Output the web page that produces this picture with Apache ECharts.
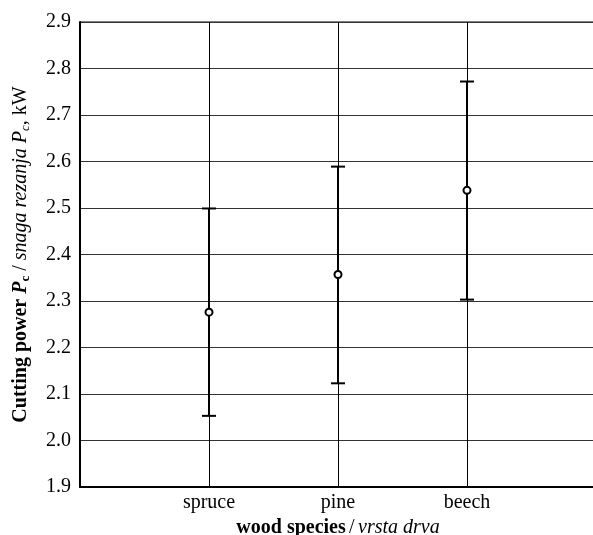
<!DOCTYPE html>
<html>
<head>
<meta charset="utf-8">
<script src="https://cdn.jsdelivr.net/npm/echarts@6/dist/echarts.min.js"></script>
<style>
html, body { margin: 0; padding: 0; background: #fff; }
#main { width: 593px; height: 535px; }
</style>
</head>
<body>
<div id="main"></div>
<script>
// categories (empty slots at both ends)
var categories = ['', 'spruce', 'pine', 'beech', ''];
var species = ['spruce', 'pine', 'beech'];
var means = [2.276, 2.357, 2.538];
var lows = [2.053, 2.123, 2.303];
var highs = [2.499, 2.589, 2.772];

var docChart = document.getElementById('main');
var myChart = echarts.init(docChart);

var barData = [];
var meanData = [];
for (var i = 0; i < species.length; i++) {
    barData.push([species[i], lows[i], highs[i]]);
    meanData.push([species[i], means[i]]);
}

var serif = '"Liberation Serif", "Times New Roman", serif';

function renderErrorBar(params, api) {
    var lowPt = api.coord([api.value(0), api.value(1)]);
    var highPt = api.coord([api.value(0), api.value(2)]);
    var half = 7;
    var style = { stroke: '#000', lineWidth: 2 };
    return {
        type: 'group',
        children: [
            { type: 'line', shape: { x1: lowPt[0], y1: lowPt[1], x2: highPt[0], y2: highPt[1] }, style: style },
            { type: 'line', shape: { x1: lowPt[0] - half, y1: lowPt[1], x2: lowPt[0] + half, y2: lowPt[1] }, style: style },
            { type: 'line', shape: { x1: highPt[0] - half, y1: highPt[1], x2: highPt[0] + half, y2: highPt[1] }, style: style }
        ]
    };
}

var option = {
    animation: false,
    backgroundColor: '#fff',
    grid: {
        left: 80,
        top: 22,
        width: 516,
        height: 465,
        outerBoundsMode: 'none',
        containLabel: false,
        show: true,
        borderColor: '#000',
        borderWidth: 1
    },
    xAxis: {
        type: 'category',
        data: categories,
        boundaryGap: false,
        name: '{b|wood species} {n|/} {i|vrsta drva}',
        nameLocation: 'middle',
        nameGap: 29,
        nameTextStyle: {
            rich: {
                b: { fontFamily: serif, fontSize: 20, fontWeight: 'bold', color: '#000' },
                n: { fontFamily: serif, fontSize: 20, color: '#000' },
                i: { fontFamily: serif, fontSize: 20, fontStyle: 'italic', color: '#000' }
            }
        },
        axisLine: { lineStyle: { color: '#000', width: 2 } },
        axisTick: { show: false },
        axisLabel: {
            interval: 0,
            color: '#000',
            fontFamily: serif,
            fontSize: 20,
            margin: 6
        },
        splitLine: { show: true, lineStyle: { color: '#000', width: 1 } }
    },
    yAxis: {
        type: 'value',
        min: 1.9,
        max: 2.9,
        interval: 0.1,
        name: '{b|Cutting power }{bi|P}{bs|c}{n| / }{i|snaga rezanja }{i|P}{is|c}{n|, kW}',
        nameLocation: 'middle',
        nameGap: 48,
        nameTextStyle: {
            rich: {
                b: { fontFamily: serif, fontSize: 20, fontWeight: 'bold', color: '#000' },
                bi: { fontFamily: serif, fontSize: 20, fontWeight: 'bold', fontStyle: 'italic', color: '#000' },
                bs: { fontFamily: serif, fontSize: 13, fontWeight: 'bold', color: '#000', padding: [10, 0, 0, 0] },
                n: { fontFamily: serif, fontSize: 20, color: '#000' },
                i: { fontFamily: serif, fontSize: 20, fontStyle: 'italic', color: '#000' },
                is: { fontFamily: serif, fontSize: 13, fontStyle: 'italic', color: '#000', padding: [10, 0, 0, 0] }
            }
        },
        axisLine: { show: true, lineStyle: { color: '#000', width: 2 } },
        axisTick: { show: false },
        axisLabel: {
            color: '#000',
            fontFamily: serif,
            fontSize: 20,
            margin: 9,
            formatter: function (v) { return v.toFixed(1); }
        },
        splitLine: { show: true, lineStyle: { color: '#333', width: 1 } }
    },
    series: [
        {
            type: 'custom',
            renderItem: renderErrorBar,
            encode: { x: 0, y: [1, 2] },
            data: barData,
            z: 3
        },
        {
            type: 'scatter',
            data: meanData,
            symbol: 'circle',
            symbolSize: 7,
            itemStyle: { color: '#fff', borderColor: '#000', borderWidth: 2, opacity: 1 },
            z: 4
        }
    ]
};

myChart.setOption(option);
</script>
</body>
</html>
